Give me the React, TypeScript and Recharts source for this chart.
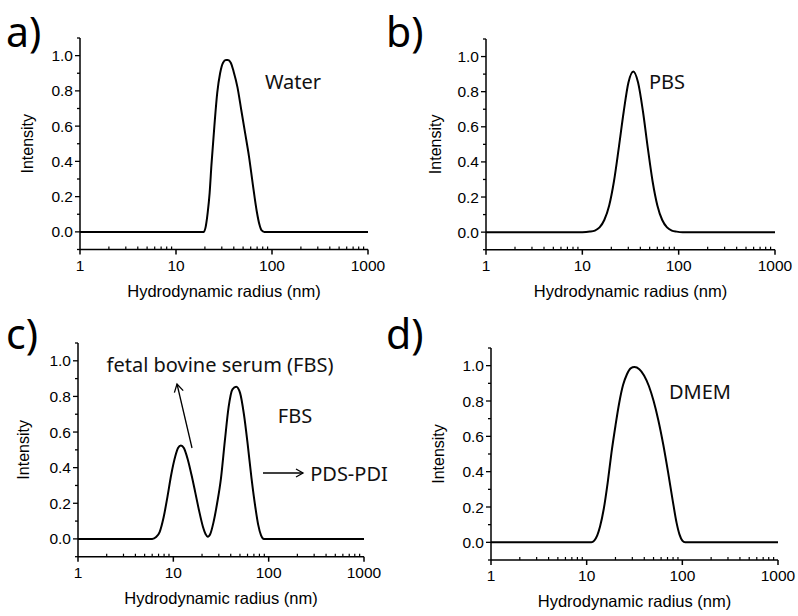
import { LineChart, Line, XAxis, YAxis } from "recharts";

// radius axis (log) and intensity axis ticks
const xTicks = [
  1, 2, 3, 4, 5, 6, 7, 8, 9, 10, 20, 30, 40, 50, 60, 70, 80, 90, 100, 200,
  300, 400, 500, 600, 700, 800, 900, 1000,
];
const xMajor = [1, 10, 100, 1000];
const yTicks = [-0.1, 0, 0.1, 0.2, 0.3, 0.4, 0.5, 0.6, 0.7, 0.8, 0.9, 1.0, 1.1];

// a) Water
const waterRadius = [
  1, 10, 19.5, 20.4, 21.4, 22.4, 23.4, 25.1, 26.9, 28.8, 30.9, 33.1, 34.7,
  37.2, 39.8, 43.7, 47.9, 52.5, 57.5, 63.1, 69.2, 74.1, 77.6, 83.2, 1000,
];
const waterIntensity = [
  0, 0, 0, 0.03, 0.11, 0.22, 0.38, 0.6, 0.79, 0.9, 0.96, 0.975, 0.975, 0.96,
  0.91, 0.82, 0.69, 0.56, 0.43, 0.27, 0.12, 0.04, 0.01, 0, 0,
];

// b) PBS
const pbsRadius = [
  1, 10, 12.0, 13.5, 15.1, 16.9, 19.0, 21.3, 23.9, 26.9, 30.1, 33.8, 37.9,
  42.6, 47.8, 53.6, 60.1, 67.5, 75.7, 84.9, 95.3, 110, 1000,
];
const pbsIntensity = [
  0, 0, 0.003, 0.009, 0.027, 0.069, 0.152, 0.29, 0.48, 0.687, 0.852, 0.915,
  0.852, 0.687, 0.48, 0.29, 0.152, 0.069, 0.027, 0.009, 0.003, 0, 0,
];

// c) FBS
const fbsRadius = [
  1, 6.0, 6.6, 7.2, 7.9, 8.7, 9.5, 10.5, 11.2, 12.0, 12.9, 14.1, 15.5, 17.0,
  18.6, 20.4, 21.9, 22.9, 24.5, 26.3, 28.8, 31.6, 34.7, 38.0, 41.7, 45.7,
  50.1, 55.0, 60.3, 66.1, 72.4, 77.6, 83.2, 89.1, 1000,
];
const fbsIntensity = [
  0, 0, 0.01, 0.04, 0.12, 0.24, 0.36, 0.465, 0.51, 0.525, 0.51, 0.45, 0.36,
  0.26, 0.16, 0.07, 0.025, 0.012, 0.03, 0.09, 0.2, 0.34, 0.55, 0.74, 0.84,
  0.855, 0.82, 0.7, 0.53, 0.34, 0.18, 0.08, 0.02, 0, 0,
];

// d) DMEM
const dmemRadius = [
  1, 11.2, 12.0, 12.9, 13.8, 15.1, 16.6, 18.2, 20.0, 21.9, 24.0, 26.3, 28.8,
  31.6, 35.5, 39.8, 44.7, 50.1, 56.2, 63.1, 70.8, 79.4, 87.1, 93.3, 100, 107,
  1000,
];
const dmemIntensity = [
  0, 0, 0.01, 0.04, 0.09, 0.19, 0.34, 0.51, 0.66, 0.79, 0.89, 0.95, 0.985,
  0.992, 0.98, 0.945, 0.885, 0.8, 0.69, 0.555, 0.4, 0.235, 0.11, 0.045, 0.01,
  0, 0,
];

const tickFont = "'Liberation Sans', Arial, sans-serif";
const noteFont = "'Noto Sans', 'Open Sans', sans-serif";

const XTick = (props: any) => {
  const { x, y, payload } = props;
  const major = xMajor.includes(payload.value);
  return (
    <g>
      {major ? (
        <line x1={x} x2={x} y1={y} y2={y + 5} stroke="#000" strokeWidth={1.5} />
      ) : (
        <line x1={x} x2={x} y1={y} y2={y - 3} stroke="#000" strokeWidth={1.2} />
      )}
      {major && (
        <text x={x} y={y + 21} textAnchor="middle" fontSize={15.5} fontFamily={tickFont} fill="#000">
          {payload.value}
        </text>
      )}
    </g>
  );
};

const YTick = (props: any) => {
  const { x, y, payload } = props;
  const v = payload.value;
  const tenth = Math.round(v * 10);
  const major = tenth >= 0 && tenth <= 10 && tenth % 2 === 0;
  return (
    <g>
      <line x1={x} x2={x - (major ? 5 : 3)} y1={y} y2={y} stroke="#000" strokeWidth={1.3} />
      {major && (
        <text x={x - 7} y={y + 5.5} textAnchor="end" fontSize={15.5} fontFamily={tickFont} fill="#000">
          {v.toFixed(1)}
        </text>
      )}
    </g>
  );
};

interface PanelProps {
  left: number;
  top: number;
  plotLeft: number;
  plotRight: number;
  plotTop: number;
  plotBottom: number;
  titleX: number;
  radius: number[];
  intensity: number[];
}

function Panel({ left, top, plotLeft, plotRight, plotTop, plotBottom, titleX, radius, intensity }: PanelProps) {
  const data = radius.map((r, i) => ({ r, v: intensity[i] }));
  const w = 398;
  const h = 308;
  const axisW = plotLeft - left;
  const axisH = top + h - plotBottom;
  return (
    <div style={{ position: "absolute", left, top }}>
      <LineChart
        width={w}
        height={h}
        data={data}
        margin={{ top: plotTop - top, right: left + w - plotRight, bottom: 0, left: 0 }}
      >
        <XAxis
          dataKey="r"
          type="number"
          scale="log"
          domain={[1, 1000]}
          allowDataOverflow
          ticks={xTicks}
          interval={0}
          tickSize={0}
          tickMargin={0}
          tickLine={false}
          tick={<XTick />}
          axisLine={{ stroke: "#000", strokeWidth: 1.5 }}
          height={axisH}
          label={{
            value: "Hydrodynamic radius (nm)",
            position: "insideBottom",
            offset: axisH - 47,
            style: { fontSize: 16.5, fontFamily: tickFont, fill: "#000" },
          }}
        />
        <YAxis
          type="number"
          domain={[-0.1, 1.1]}
          allowDataOverflow
          ticks={yTicks}
          interval={0}
          tickSize={0}
          tickMargin={0}
          tickLine={false}
          tick={<YTick />}
          axisLine={{ stroke: "#000", strokeWidth: 1.5 }}
          width={axisW}
          label={{
            value: "Intensity",
            angle: -90,
            position: "insideLeft",
            offset: titleX - left,
            style: { fontSize: 16, fontFamily: tickFont, fill: "#000", textAnchor: "middle" },
          }}
        />
        <Line
          dataKey="v"
          type="monotone"
          stroke="#000"
          strokeWidth={2}
          dot={false}
          isAnimationActive={false}
        />
      </LineChart>
    </div>
  );
}

export default function App() {
  const note = { fontFamily: noteFont, fontSize: 20, fill: "#111" };
  const letter = { fontFamily: noteFont, fontSize: 41, fill: "#000" };
  return (
    <div style={{ position: "absolute", left: 0, top: 0, width: 798, height: 616, background: "#fff" }}>
      <Panel left={0} top={0} plotLeft={80} plotRight={368} plotTop={38} plotBottom={249.5} titleX={27}
        radius={waterRadius} intensity={waterIntensity} />
      <Panel left={400} top={0} plotLeft={486} plotRight={775} plotTop={39} plotBottom={249.7} titleX={435}
        radius={pbsRadius} intensity={pbsIntensity} />
      <Panel left={0} top={308} plotLeft={78} plotRight={364} plotTop={343} plotBottom={556.7} titleX={23}
        radius={fbsRadius} intensity={fbsIntensity} />
      <Panel left={400} top={308} plotLeft={491} plotRight={778} plotTop={348} plotBottom={560} titleX={438}
        radius={dmemRadius} intensity={dmemIntensity} />

      <svg width={798} height={616} style={{ position: "absolute", left: 0, top: 0, pointerEvents: "none" }}>
        <text x={6} y={47} style={letter}>a)</text>
        <text x={386} y={47} style={letter}>b)</text>
        <text x={6} y={349} style={letter}>c)</text>
        <text x={386} y={349} style={letter}>d)</text>

        <text x={293} y={89} textAnchor="middle" style={note}>Water</text>
        <text x={667} y={89} textAnchor="middle" style={note}>PBS</text>
        <text x={220} y={372} textAnchor="middle" style={note}>fetal bovine serum (FBS)</text>
        <text x={295} y={423} textAnchor="middle" style={note}>FBS</text>
        <text x={349} y={481} textAnchor="middle" style={note}>PDS-PDI</text>
        <text x={700} y={399} textAnchor="middle" style={note}>DMEM</text>

        <g stroke="#000" strokeWidth={1.3} fill="none">
          <line x1={263} y1={473} x2={303} y2={473} />
          <polyline points="296,469 303,473 296,477" />
          <line x1={192} y1={448} x2={177} y2={384} />
          <polyline points="174.4,392.6 177,384 183.2,390.6" />
        </g>
      </svg>
    </div>
  );
}
